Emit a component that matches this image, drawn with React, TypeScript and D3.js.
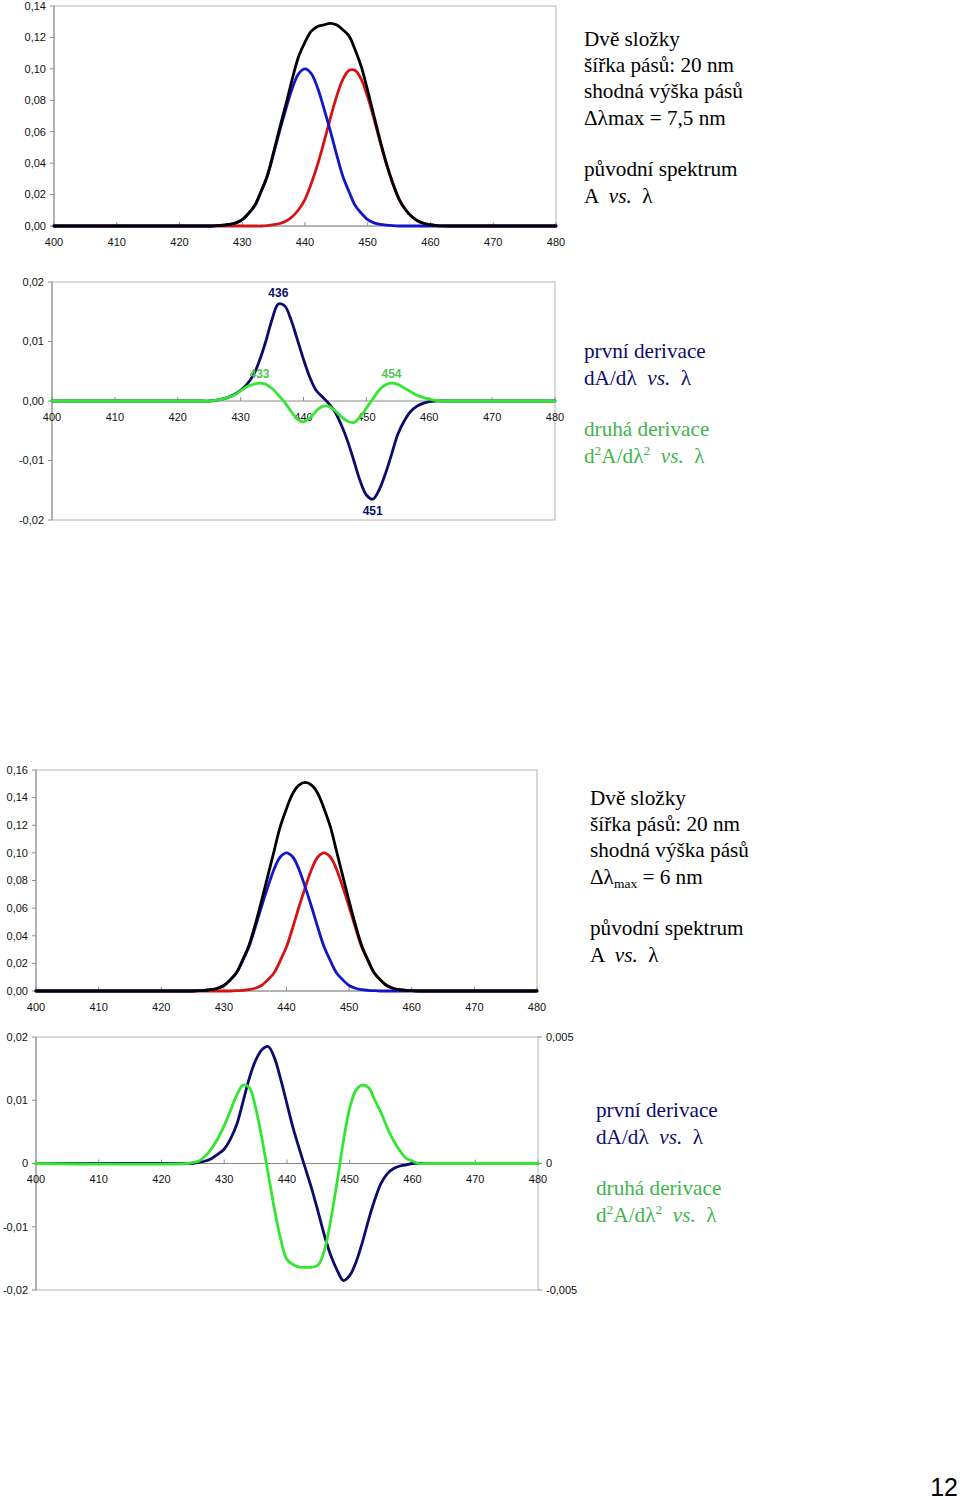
import React from "react";
import * as d3 from "d3";

// wavelength grid (nm)
const LAMBDA = [400,
  424, 425, 426, 427, 428, 429, 430, 431, 432, 433,
  434, 435, 436, 437, 438, 439, 440, 441, 442, 443,
  444, 445, 446, 447, 448, 449, 450, 451, 452, 453,
  454, 455, 456, 457, 458, 459, 460, 461, 462, 463, 464,
  480];

const X_TICKS = [400, 410, 420, 430, 440, 450, 460, 470, 480];

// ---- Panel A: Δλmax = 7,5 nm, original spectrum ----
const A_BLUE = [0,
  0, 0, 0.0002, 0.0005, 0.001, 0.002, 0.004, 0.008, 0.013, 0.022,
  0.032, 0.046, 0.061, 0.075, 0.088, 0.097, 0.100, 0.097, 0.088, 0.075,
  0.061, 0.046, 0.032, 0.022, 0.013, 0.008, 0.004, 0.002, 0.001, 0.0005,
  0.0002, 0, 0, 0, 0, 0, 0, 0, 0, 0, 0,
  0];
const A_RED = [0,
  0, 0, 0, 0, 0, 0, 0, 0, 0, 0,
  0.0003, 0.0008, 0.0016, 0.0032, 0.006, 0.0105, 0.017, 0.027, 0.039, 0.053,
  0.068, 0.082, 0.093, 0.099, 0.099, 0.093, 0.082, 0.068, 0.053, 0.039,
  0.027, 0.017, 0.0105, 0.006, 0.0032, 0.0016, 0.0008, 0.0003, 0.0001, 0, 0,
  0];
const A_BLACK = [0,
  0, 0, 0.0002, 0.0005, 0.001, 0.002, 0.004, 0.008, 0.013, 0.022,
  0.032, 0.047, 0.063, 0.078, 0.094, 0.108, 0.117, 0.124, 0.127, 0.128,
  0.129, 0.128, 0.125, 0.121, 0.112, 0.101, 0.086, 0.070, 0.054, 0.0395,
  0.027, 0.017, 0.0105, 0.006, 0.0032, 0.0016, 0.0008, 0.0003, 0.0001, 0, 0,
  0];
const A_Y_TICKS = [0, 0.02, 0.04, 0.06, 0.08, 0.10, 0.12, 0.14];
const A_Y_LABELS = ["0,00", "0,02", "0,04", "0,06", "0,08", "0,10", "0,12", "0,14"];

// ---- Panel B: derivatives of panel A ----
const B_FIRST = [0,
  0, 0, 0.0001, 0.0003, 0.0006, 0.0011, 0.0018, 0.0028, 0.0043, 0.0068,
  0.010, 0.0137, 0.0163, 0.0160, 0.0137, 0.0104, 0.007, 0.004, 0.0018, 0.0007,
  -0.0004, -0.0018, -0.004, -0.0067, -0.010, -0.0134, -0.0158, -0.0165, -0.015, -0.0123,
  -0.009, -0.0056, -0.0034, -0.0018, -0.0009, -0.0004, -0.0001, 0, 0, 0, 0,
  0];
const B_SECOND = [0,
  0, 0, 0.0001, 0.0003, 0.0006, 0.001, 0.0017, 0.0024, 0.0028, 0.003,
  0.0028, 0.0021, 0.001, -0.0002, -0.0017, -0.003, -0.0035, -0.0029, -0.0017, -0.0009,
  -0.0009, -0.0016, -0.0026, -0.0034, -0.0036, -0.0027, -0.0012, 0.0003, 0.0018, 0.0027,
  0.003, 0.0028, 0.0022, 0.0016, 0.001, 0.0006, 0.0003, 0.0001, 0, 0, 0,
  0];
const B_Y_TICKS = [-0.02, -0.01, 0, 0.01, 0.02];
const B_Y_LABELS = ["-0,02", "-0,01", "0,00", "0,01", "0,02"];
const B_PEAKS = [
  { lambda: 436, label: "436", series: "first", side: "above" },
  { lambda: 451, label: "451", series: "first", side: "below" },
  { lambda: 433, label: "433", series: "second", side: "above" },
  { lambda: 454, label: "454", series: "second", side: "above" },
];

// ---- Panel C: Δλmax = 6 nm, original spectrum ----
const C_BLUE = [0,
  0, 0, 0.0002, 0.0005, 0.001, 0.002, 0.004, 0.008, 0.013, 0.022,
  0.032, 0.046, 0.061, 0.075, 0.088, 0.097, 0.100, 0.097, 0.088, 0.075,
  0.061, 0.046, 0.032, 0.022, 0.013, 0.008, 0.004, 0.002, 0.001, 0.0005,
  0.0002, 0, 0, 0, 0, 0, 0, 0, 0, 0, 0,
  0];
const C_RED = [0,
  0, 0, 0, 0, 0, 0, 0, 0, 0.0002, 0.0005,
  0.001, 0.002, 0.004, 0.008, 0.013, 0.022, 0.032, 0.046, 0.061, 0.075,
  0.088, 0.097, 0.100, 0.097, 0.088, 0.075, 0.061, 0.046, 0.032, 0.022,
  0.013, 0.008, 0.004, 0.002, 0.001, 0.0005, 0.0002, 0, 0, 0, 0,
  0];
const C_BLACK = [0,
  0, 0, 0.0002, 0.0005, 0.001, 0.002, 0.004, 0.008, 0.0132, 0.0225,
  0.033, 0.048, 0.065, 0.083, 0.101, 0.119, 0.132, 0.143, 0.149, 0.151,
  0.149, 0.143, 0.132, 0.119, 0.101, 0.083, 0.065, 0.048, 0.033, 0.0225,
  0.0132, 0.008, 0.004, 0.002, 0.001, 0.0005, 0.0002, 0, 0, 0, 0,
  0];
const C_Y_TICKS = [0, 0.02, 0.04, 0.06, 0.08, 0.10, 0.12, 0.14, 0.16];
const C_Y_LABELS = ["0,00", "0,02", "0,04", "0,06", "0,08", "0,10", "0,12", "0,14", "0,16"];

// ---- Panel D: derivatives of panel C ----
const D_FIRST = [0,
  0, 0, 0.0002, 0.0004, 0.0008, 0.0015, 0.0023, 0.0039, 0.0062, 0.0098,
  0.0135, 0.0163, 0.018, 0.0185, 0.0167, 0.0133, 0.0094, 0.0055, 0.0022, -0.001,
  -0.0042, -0.0078, -0.0115, -0.0146, -0.0169, -0.0185, -0.0177, -0.0156, -0.0125, -0.0089,
  -0.0057, -0.0031, -0.0016, -0.0008, -0.0004, -0.0002, 0, 0, 0, 0, 0,
  0];
const D_SECOND = [0,
  0, 0.00004, 0.0001, 0.0003, 0.0006, 0.001, 0.0015, 0.0021, 0.0027, 0.0031,
  0.003, 0.0022, 0.001, -0.0004, -0.0018, -0.003, -0.0038, -0.004, -0.0041, -0.0041,
  -0.0041, -0.004, -0.0034, -0.0022, -0.0007, 0.0009, 0.0022, 0.0029, 0.0031, 0.003,
  0.0025, 0.002, 0.0014, 0.0009, 0.0005, 0.0002, 0.0001, 0, 0, 0, 0,
  0];
const D_YL_TICKS = [-0.02, -0.01, 0, 0.01, 0.02];
const D_YL_LABELS = ["-0,02", "-0,01", "0", "0,01", "0,02"];
const D_YR_TICKS = [-0.005, 0, 0.005];
const D_YR_LABELS = ["-0,005", "0", "0,005"];

// ---- styles ----
const C_BLACK_LINE = "#000000";
const C_BLUE_LINE = "#1414c8";
const C_RED_LINE = "#d41414";
const C_NAVY = "#0c0c6a";
const C_GREEN = "#33e633";
const C_GREEN_TEXT = "#3fb54c";
const C_GREEN_LABEL = "#55c455";
const FRAME = "#b4b4b4";
const AXIS = "#8c8c8c";
const SANS = "'Liberation Sans', Arial, sans-serif";
const SERIF = "'Liberation Serif', 'Times New Roman', serif";

type Series = { values: number[]; color: string; right?: boolean };

function Panel(props: {
  left: number; right: number; top: number; bottom: number;
  yDomain: [number, number]; yTicks: number[]; yLabels: string[];
  yrDomain?: [number, number]; yrTicks?: number[]; yrLabels?: string[];
  series: Series[];
  children?: (x: d3.ScaleLinear<number, number>, y: d3.ScaleLinear<number, number>) => React.ReactNode;
}) {
  const { left, right, top, bottom, yDomain, yTicks, yLabels, series } = props;
  const x = d3.scaleLinear().domain([400, 480]).range([left, right]);
  const y = d3.scaleLinear().domain(yDomain).range([bottom, top]);
  const yr = props.yrDomain ? d3.scaleLinear().domain(props.yrDomain).range([bottom, top]) : null;
  const zeroY = y(Math.max(0, yDomain[0]));
  const mk = (s: Series) => {
    const sc = s.right && yr ? yr : y;
    const line = d3.line<number>()
      .x((_, i) => x(LAMBDA[i]))
      .y((v) => sc(v))
      .curve(d3.curveCatmullRom.alpha(0.5));
    return line(s.values) || "";
  };
  return (
    <g>
      <rect x={left} y={top} width={right - left} height={bottom - top} fill="none" stroke={FRAME} strokeWidth={1} />
      {/* y axis */}
      <line x1={left} x2={left} y1={top} y2={bottom} stroke={AXIS} strokeWidth={1} />
      {yTicks.map((t, i) => (
        <g key={"yt" + i}>
          <line x1={left - 4} x2={left} y1={y(t)} y2={y(t)} stroke={AXIS} />
          <text x={left - 8} y={y(t)} dy="0.35em" textAnchor="end" fontFamily={SANS} fontSize={11} fill="#111">{yLabels[i]}</text>
        </g>
      ))}
      {yr && props.yrTicks && props.yrTicks.map((t, i) => (
        <g key={"yr" + i}>
          <line x1={right} x2={right + 4} y1={yr(t)} y2={yr(t)} stroke={AXIS} />
          <text x={right + 8} y={yr(t)} dy="0.35em" textAnchor="start" fontFamily={SANS} fontSize={11} fill="#111">{props.yrLabels![i]}</text>
        </g>
      ))}
      {/* x axis at zero */}
      <line x1={left} x2={right} y1={zeroY} y2={zeroY} stroke={AXIS} strokeWidth={1} />
      {X_TICKS.map((t) => (
        <g key={"xt" + t}>
          <line x1={x(t)} x2={x(t)} y1={zeroY - 4} y2={zeroY} stroke={AXIS} />
          <text x={x(t)} y={zeroY + 16} dy="0.35em" textAnchor="middle" fontFamily={SANS} fontSize={11} fill="#111">{t}</text>
        </g>
      ))}
      {series.map((s, i) => (
        <path key={"s" + i} d={mk(s)} fill="none" stroke={s.color} strokeWidth={2.8} strokeLinejoin="round" strokeLinecap="round" />
      ))}
      {props.children && props.children(x, y)}
    </g>
  );
}

function SerifBlock(props: { x: number; y: number; children: React.ReactNode; color?: string }) {
  return (
    <text x={props.x} y={props.y} fontFamily={SERIF} fontSize={21.2} fill={props.color || "#000"} style={{ whiteSpace: "pre" }}>
      {props.children}
    </text>
  );
}

export default function App() {
  const valueAt = (arr: number[], lambda: number) => arr[LAMBDA.indexOf(lambda)];
  return (
    <svg width={960} height={1500} style={{ position: "absolute", left: 0, top: 0, background: "#fff" }}>
      <rect x={0} y={0} width={960} height={1500} fill="#fff" />

      {/* Panel A */}
      <Panel left={54} right={556} top={6} bottom={226} yDomain={[0, 0.14]} yTicks={A_Y_TICKS} yLabels={A_Y_LABELS}
        series={[{ values: A_RED, color: C_RED_LINE }, { values: A_BLUE, color: C_BLUE_LINE }, { values: A_BLACK, color: C_BLACK_LINE }]} />
      <SerifBlock x={584} y={46}>Dvě složky</SerifBlock>
      <SerifBlock x={584} y={72}>šířka pásů: 20 nm</SerifBlock>
      <SerifBlock x={584} y={98}>shodná výška pásů</SerifBlock>
      <SerifBlock x={584} y={125}>Δλmax = 7,5 nm</SerifBlock>
      <SerifBlock x={584} y={176}>původní spektrum</SerifBlock>
      <SerifBlock x={584} y={203}>{"A  "}<tspan fontStyle="italic">vs.</tspan>{"  λ"}</SerifBlock>

      {/* Panel B */}
      <Panel left={52} right={555} top={282} bottom={520} yDomain={[-0.02, 0.02]} yTicks={B_Y_TICKS} yLabels={B_Y_LABELS}
        series={[{ values: B_FIRST, color: C_NAVY }, { values: B_SECOND, color: C_GREEN }]}>
        {(x, y) => B_PEAKS.map((p) => {
          const v = valueAt(p.series === "first" ? B_FIRST : B_SECOND, p.lambda);
          const gap = p.series === "first" ? 7 : 5;
          const yy = p.side === "above" ? y(v) - gap : y(v) + 16;
          return (
            <text key={p.label} x={x(p.lambda)} y={yy} textAnchor="middle" fontFamily={SANS} fontSize={12} fontWeight="bold"
              fill={p.series === "first" ? C_NAVY : C_GREEN_LABEL}>{p.label}</text>
          );
        })}
      </Panel>
      <SerifBlock x={584} y={358} color={C_NAVY}>první derivace</SerifBlock>
      <SerifBlock x={584} y={385} color={C_NAVY}>{"dA/dλ  "}<tspan fontStyle="italic">vs.</tspan>{"  λ"}</SerifBlock>
      <SerifBlock x={584} y={436} color={C_GREEN_TEXT}>druhá derivace</SerifBlock>
      <SerifBlock x={584} y={463} color={C_GREEN_TEXT}>d<tspan fontSize={13.5} dy={-8}>2</tspan><tspan dy={8}>A/dλ</tspan><tspan fontSize={13.5} dy={-8}>2</tspan><tspan dy={8}>{"  "}</tspan><tspan fontStyle="italic">vs.</tspan>{"  λ"}</SerifBlock>

      {/* Panel C */}
      <Panel left={36} right={537} top={770} bottom={991} yDomain={[0, 0.16]} yTicks={C_Y_TICKS} yLabels={C_Y_LABELS}
        series={[{ values: C_RED, color: C_RED_LINE }, { values: C_BLUE, color: C_BLUE_LINE }, { values: C_BLACK, color: C_BLACK_LINE }]} />
      <SerifBlock x={590} y={805}>Dvě složky</SerifBlock>
      <SerifBlock x={590} y={831}>šířka pásů: 20 nm</SerifBlock>
      <SerifBlock x={590} y={857}>shodná výška pásů</SerifBlock>
      <SerifBlock x={590} y={884}>Δλ<tspan fontSize={13.5} dy={4}>max</tspan><tspan dy={-4}> = 6 nm</tspan></SerifBlock>
      <SerifBlock x={590} y={935}>původní spektrum</SerifBlock>
      <SerifBlock x={590} y={962}>{"A  "}<tspan fontStyle="italic">vs.</tspan>{"  λ"}</SerifBlock>

      {/* Panel D */}
      <Panel left={36} right={538} top={1037} bottom={1290} yDomain={[-0.02, 0.02]} yTicks={D_YL_TICKS} yLabels={D_YL_LABELS}
        yrDomain={[-0.005, 0.005]} yrTicks={D_YR_TICKS} yrLabels={D_YR_LABELS}
        series={[{ values: D_FIRST, color: C_NAVY }, { values: D_SECOND, color: C_GREEN, right: true }]} />
      <SerifBlock x={596} y={1117} color={C_NAVY}>první derivace</SerifBlock>
      <SerifBlock x={596} y={1144} color={C_NAVY}>{"dA/dλ  "}<tspan fontStyle="italic">vs.</tspan>{"  λ"}</SerifBlock>
      <SerifBlock x={596} y={1195} color={C_GREEN_TEXT}>druhá derivace</SerifBlock>
      <SerifBlock x={596} y={1222} color={C_GREEN_TEXT}>d<tspan fontSize={13.5} dy={-8}>2</tspan><tspan dy={8}>A/dλ</tspan><tspan fontSize={13.5} dy={-8}>2</tspan><tspan dy={8}>{"  "}</tspan><tspan fontStyle="italic">vs.</tspan>{"  λ"}</SerifBlock>

      {/* page number */}
      <text x={958} y={1496} textAnchor="end" fontFamily={SANS} fontSize={25} fill="#000">12</text>
    </svg>
  );
}
